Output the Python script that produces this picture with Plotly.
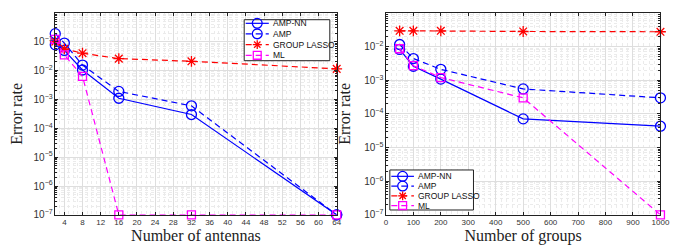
import plotly.graph_objects as go

# ---- data: left panel (vs number of antennas) ----
antennas = [2, 4, 8, 16, 32, 64]
ant_ampnn = [0.078, 0.05, 0.0105, 1.1e-3, 3.0e-4, 1e-7]
ant_amp = [0.19, 0.09, 0.0155, 1.9e-3, 6.0e-4, 1e-7]
ant_lasso = [0.1, 0.057, 0.04, 0.026, 0.021, 0.0115]
ant_ml = [0.12, 0.035, 0.0063, 1e-7, 1e-7, 1e-7]

# ---- data: right panel (vs number of groups) ----
groups = [50, 100, 200, 500, 1000]
grp_ampnn = [8.2e-3, 2.6e-3, 1.08e-3, 7.1e-5, 4.3e-5]
grp_amp = [0.0115, 4.4e-3, 2.1e-3, 5.5e-4, 3.0e-4]
grp_lasso = [0.0294, 0.0294, 0.0294, 0.028, 0.0275]
grp_ml = [8.6e-3, 2.7e-3, 1.2e-3, 3.0e-4, 1e-7]

names = ["AMP-NN", "AMP", "GROUP LASSO", "ML"]
left_ticks_x = list(range(4, 65, 4))
right_ticks_x = list(range(0, 1001, 100))
left_yrange_exp = [-7, 0]
right_yrange_exp = [-7, -1]

BLUE = "#0000ff"
RED = "#ff0000"
MAG = "#ff00ff"
DASH = "6px,4px"
styles = [
    dict(color=BLUE, dash="solid", symbol="circle-open", size=10),
    dict(color=BLUE, dash=DASH, symbol="circle-open", size=10),
    dict(color=RED, dash=DASH, symbol="asterisk-open", size=9),
    dict(color=MAG, dash=DASH, symbol="square-open", size=8),
]

fig = go.Figure()

def add_panel(xs, series, xaxis, yaxis):
    for name, ys, st in zip(names, series, styles):
        fig.add_trace(go.Scatter(
            x=xs, y=ys, name=name, mode="lines+markers", showlegend=False,
            xaxis=xaxis, yaxis=yaxis, cliponaxis=False,
            line=dict(color=st["color"], dash=st["dash"], width=1.2),
            marker=dict(symbol=st["symbol"], size=st["size"], color=st["color"],
                        line=dict(width=1.3, color=st["color"])),
        ))

add_panel(antennas, [ant_ampnn, ant_amp, ant_lasso, ant_ml], "x", "y")
add_panel(groups, [grp_ampnn, grp_amp, grp_lasso, grp_ml], "x2", "y2")

W, H = 689, 248
def px_x(a, b):
    return [a / W, b / W]
def px_y(top, bottom):
    return [1 - bottom / H, 1 - top / H]

tickfont = dict(family="Liberation Sans, Arial", size=8, color="#333333")
titlefont = dict(family="Liberation Serif, Times New Roman", size=16, color="#222222")
MINOR_GRID = "#ebebeb"
common = dict(
    showline=True, linecolor="#222222", linewidth=1, mirror="allticks",
    ticks="inside", ticklen=3, tickcolor="#222222",
    showgrid=True, gridcolor="#dedede", gridwidth=1,
    zeroline=False, tickfont=tickfont,
)
def ylog(rng):
    return dict(
        type="log", range=rng,
        tickmode="linear", tick0=0, dtick=1,
        exponentformat="power", showexponent="all",
        labelalias={"1": "10<sup>0</sup>", "10": "10<sup>1</sup>"},
        minor=dict(dtick="D1", showgrid=True, griddash="dot",
                   gridcolor=MINOR_GRID, ticks="inside", ticklen=2, tickcolor="#222222"),
        title=dict(text="Error rate", font=titlefont, standoff=9),
        **common,
    )

shapes = []
annotations = []

def legend_box(box, rows_y, line_x, text_x):
    # box: (left, top, right, bottom) in px
    l, t, r, b = box
    shapes.append(dict(type="rect", xref="paper", yref="paper",
                       x0=l / W, x1=r / W, y0=1 - b / H, y1=1 - t / H,
                       line=dict(color="#222222", width=1), fillcolor="white", layer="above"))
    for name, st, yc in zip(names, styles, rows_y):
        yp = 1 - yc / H
        shapes.append(dict(type="line", xref="paper", yref="paper",
                           x0=line_x[0] / W, x1=line_x[1] / W, y0=yp, y1=yp,
                           line=dict(color=st["color"], width=1.2, dash=st["dash"]), layer="above"))
        cx = (line_x[0] + line_x[1]) / 2
        s = st["size"] / 2
        if st["symbol"].startswith("circle"):
            shapes.append(dict(type="circle", xref="paper", yref="paper",
                               x0=(cx - s) / W, x1=(cx + s) / W,
                               y0=1 - (yc + s) / H, y1=1 - (yc - s) / H,
                               line=dict(color=st["color"], width=1.3), fillcolor="rgba(0,0,0,0)", layer="above"))
        elif st["symbol"].startswith("square"):
            shapes.append(dict(type="rect", xref="paper", yref="paper",
                               x0=(cx - s) / W, x1=(cx + s) / W,
                               y0=1 - (yc + s) / H, y1=1 - (yc - s) / H,
                               line=dict(color=st["color"], width=1.3), fillcolor="rgba(0,0,0,0)", layer="above"))
        else:
            d = s * 0.72
            segs = [((cx - s, yc), (cx + s, yc)), ((cx, yc - s), (cx, yc + s)),
                    ((cx - d, yc - d), (cx + d, yc + d)), ((cx - d, yc + d), (cx + d, yc - d))]
            for (ax_, ay_), (bx_, by_) in segs:
                shapes.append(dict(type="line", xref="paper", yref="paper",
                                   x0=ax_ / W, x1=bx_ / W, y0=1 - ay_ / H, y1=1 - by_ / H,
                                   line=dict(color=st["color"], width=1.3), layer="above"))
        annotations.append(dict(xref="paper", yref="paper", x=text_x / W, y=yp,
                                xanchor="left", yanchor="middle", showarrow=False,
                                text=name, font=dict(family="Liberation Sans, Arial", size=8.5, color="#111111")))

legend_box((238, 12, 325, 54), [15.7, 26.5, 37.5, 48.5], (239.5, 263), 265.5)
legend_box((386, 166, 471, 207), [172.5, 182.5, 192.5, 202.5], (387.5, 410.5), 412.5)

fig.update_layout(
    width=W, height=H,
    margin=dict(l=0, r=0, t=0, b=0),
    paper_bgcolor="white", plot_bgcolor="white",
    showlegend=False,
    xaxis=dict(domain=px_x(46, 332), range=[2, 64], tickmode="array",
               tickvals=left_ticks_x, anchor="y",
               minor=dict(dtick=1, showgrid=True, griddash="dot", gridcolor=MINOR_GRID),
               title=dict(text="Number of antennas", font=titlefont, standoff=1),
               **common),
    yaxis=dict(domain=px_y(5, 212), anchor="x", **ylog(left_yrange_exp)),
    xaxis2=dict(domain=px_x(382, 661), range=[0, 1000], tickmode="array",
                tickvals=right_ticks_x, anchor="y2",
                minor=dict(dtick=20, showgrid=True, griddash="dot", gridcolor=MINOR_GRID),
                title=dict(text="Number of groups", font=titlefont, standoff=1),
                **common),
    yaxis2=dict(domain=px_y(5, 212), anchor="x2", **ylog(right_yrange_exp)),
    shapes=shapes,
    annotations=annotations,
)

fig.write_html("out.html")
